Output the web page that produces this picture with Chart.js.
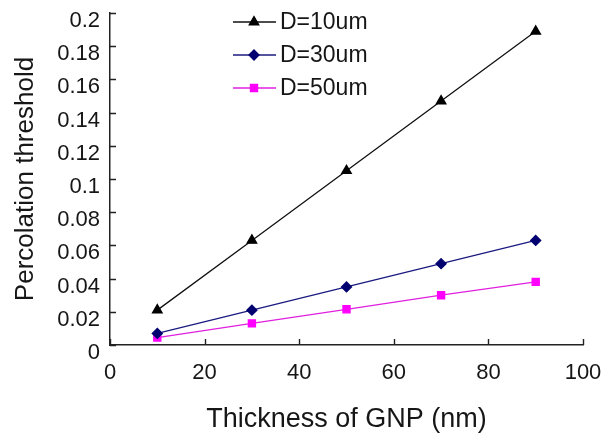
<!DOCTYPE html>
<html>
<head>
<meta charset="utf-8">
<script src="https://cdn.jsdelivr.net/npm/chart.js@4"></script>
<style>
  html, body { margin: 0; padding: 0; background: #fff; }
  #wrap { width: 610px; height: 439px; position: relative; }
</style>
</head>
<body>
<div id="wrap"><canvas id="chart" width="610" height="439"></canvas></div>
<script>
// data
const thickness = [10, 30, 50, 70, 90];
const d10 = [0.021, 0.063, 0.105, 0.147, 0.189];
const d30 = [0.007, 0.021, 0.035, 0.049, 0.063];
const d50 = [0.0045, 0.013, 0.0215, 0.030, 0.038];
const seriesNames = ['D=10um', 'D=30um', 'D=50um'];
const xTicks = [0, 20, 40, 60, 80, 100];
const yTicks = [0, 0.02, 0.04, 0.06, 0.08, 0.1, 0.12, 0.14, 0.16, 0.18, 0.2];

const FONT = "'Liberation Sans', Arial, sans-serif";
const TXT = '#161616';

function pts(ys) {
  return thickness.map((x, i) => ({ x: x, y: ys[i] }));
}

// short tick marks pointing into the plot, like the original
const innerTicks = {
  id: 'innerTicks',
  afterDraw(chart) {
    const ctx = chart.ctx;
    const { left, bottom } = chart.chartArea;
    const xs = chart.scales.x, ys = chart.scales.y;
    ctx.save();
    ctx.strokeStyle = '#222';
    ctx.lineWidth = 1.4;
    ctx.beginPath();
    xTicks.forEach(v => {
      const px = Math.round(xs.getPixelForValue(v)) + 0.5;
      ctx.moveTo(px, bottom);
      ctx.lineTo(px, bottom - 6);
    });
    yTicks.forEach(v => {
      const py = Math.round(ys.getPixelForValue(v)) + 0.5;
      ctx.moveTo(left, py);
      ctx.lineTo(left + 6, py);
    });
    ctx.stroke();
    ctx.restore();
  }
};

// legend drawn inside the plot, top left
const innerLegend = {
  id: 'innerLegend',
  afterDraw(chart) {
    const ctx = chart.ctx;
    ctx.save();
    ctx.font = '23px ' + FONT;
    ctx.textBaseline = 'middle';
    chart.data.datasets.forEach((ds, i) => {
      const y = 22 + i * 33;
      ctx.strokeStyle = ds.borderColor;
      ctx.lineWidth = 1.3;
      ctx.beginPath();
      ctx.moveTo(233, y);
      ctx.lineTo(276, y);
      ctx.stroke();
      ctx.fillStyle = ds.pointBackgroundColor;
      ctx.strokeStyle = ds.pointBorderColor;
      Chart.helpers.drawPoint(ctx, {
        pointStyle: ds.pointStyle,
        radius: ds.pointRadius,
        borderWidth: 1,
      }, 254, y);
      ctx.fillStyle = TXT;
      ctx.fillText(ds.label, 280, y + 1);
    });
    ctx.restore();
  }
};

new Chart(document.getElementById('chart'), {
  type: 'scatter',
  data: {
    datasets: [
      {
        label: seriesNames[0],
        data: pts(d10),
        showLine: true,
        borderColor: '#111111',
        borderWidth: 1.3,
        pointStyle: 'triangle',
        pointRadius: 5.5,
        pointBackgroundColor: '#000',
        pointBorderColor: '#000',
      },
      {
        label: seriesNames[1],
        data: pts(d30),
        showLine: true,
        borderColor: '#1a1a80',
        borderWidth: 1.3,
        pointStyle: 'rectRot',
        pointRadius: 5,
        pointBackgroundColor: '#000070',
        pointBorderColor: '#000070',
      },
      {
        label: seriesNames[2],
        data: pts(d50),
        showLine: true,
        borderColor: '#e020e0',
        borderWidth: 1.3,
        pointStyle: 'rect',
        pointRadius: 5,
        pointBackgroundColor: '#ff00ff',
        pointBorderColor: '#ff00ff',
      }
    ]
  },
  options: {
    responsive: false,
    animation: false,
    layout: { padding: { top: 13, right: 27, left: 0, bottom: 0 } },
    plugins: {
      legend: { display: false },
      tooltip: { enabled: false }
    },
    scales: {
      x: {
        type: 'linear',
        min: 0, max: 100,
        afterFit: s => { s.height = 94; s.paddingLeft = 0; s.paddingRight = 0; },
        afterBuildTicks: s => { s.ticks = xTicks.map(v => ({ value: v })); },
        grid: { drawOnChartArea: false, drawTicks: false },
        border: { color: '#222', width: 1.5 },
        ticks: { padding: 15, color: TXT, font: { family: FONT, size: 22 }, maxRotation: 0 },
        title: {
          display: true,
          text: 'Thickness of GNP (nm)',
          color: TXT,
          font: { family: FONT, size: 27 },
          padding: { top: 0, bottom: 3 }
        }
      },
      y: {
        type: 'linear',
        min: 0, max: 0.2,
        afterFit: s => { s.width = 110; s.paddingTop = 0; s.paddingBottom = 0; },
        afterBuildTicks: s => { s.ticks = yTicks.map(v => ({ value: v })); },
        grid: { drawOnChartArea: false, drawTicks: false },
        border: { color: '#222', width: 1.5 },
        ticks: {
          padding: 10, labelOffset: 8, color: TXT, font: { family: FONT, size: 22 },
          callback: v => String(Number(v.toFixed(2)))
        },
        title: {
          display: true,
          text: 'Percolation threshold',
          color: TXT,
          font: { family: FONT, size: 26 },
          padding: { top: 10, bottom: 0 }
        }
      }
    }
  },
  plugins: [innerTicks, innerLegend]
});
</script>
</body>
</html>
